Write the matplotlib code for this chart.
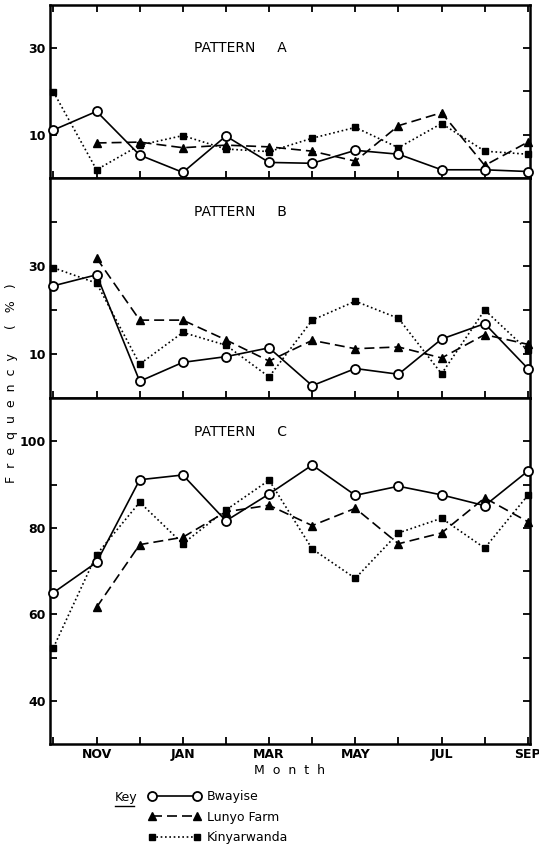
import numpy as np
import matplotlib
matplotlib.use("Agg")
import matplotlib.pyplot as plt
from matplotlib.lines import Line2D

plt.rcParams['font.family'] = ['DejaVu Sans']

months = ['OCT', 'NOV', 'DEC', 'JAN', 'FEB', 'MAR', 'APR', 'MAY', 'JUN', 'JUL', 'AUG', 'SEP']
nan = np.nan

# Pattern A (%)
a_bwayise = [11.1, 15.4, 5.3, 1.3, 9.7, 3.6, 3.4, 6.4, 5.5, 1.9, 1.9, 1.5]
a_lunyo = [nan, 8.1, 8.3, 7.0, 7.6, 7.2, 6.2, 3.9, 12.1, 15.1, 2.9, 8.3]
a_kinyar = [19.9, 1.9, 7.6, 9.8, 6.7, 6.1, 9.2, 11.7, 7.0, 12.6, 6.2, 5.5]

# Pattern B (%)
b_bwayise = [25.5, 28.0, 3.8, 8.1, 9.4, 11.4, 2.8, 6.7, 5.4, 13.4, 16.9, 6.7]
b_lunyo = [nan, 31.8, 17.7, 17.7, 13.2, 8.4, 13.1, 11.2, 11.6, 9.1, 14.4, 12.2]
b_kinyar = [29.6, 26.1, 7.7, 14.9, 12.0, 4.8, 17.7, 22.0, 18.1, 5.5, 20.0, 10.8]

# Pattern C (%)
c_bwayise = [65.0, 72.0, 91.1, 92.2, 81.6, 87.8, 94.5, 87.5, 89.6, 87.6, 85.1, 93.1]
c_lunyo = [nan, 61.6, 76.1, 77.8, 83.7, 85.2, 80.5, 84.5, 76.3, 78.8, 86.9, 81.4]
c_kinyar = [52.3, 73.8, 85.9, 76.3, 84.1, 91.0, 75.1, 68.3, 78.8, 82.2, 75.3, 87.5]

series_names = ['Bwayise', 'Lunyo Farm', 'Kinyarwanda']
panel_titles = ['PATTERN     A', 'PATTERN     B', 'PATTERN     C']

W, H = 539, 846
fig = plt.figure(figsize=(W / 100, H / 100), dpi=100)
L, R = 50 / W, 530 / W


def add_ax(top, bot):
    return fig.add_axes([L, 1 - bot / H, R - L, (bot - top) / H])


axA = add_ax(5, 178)
axB = add_ax(178, 398)
axC = add_ax(398, 744)

x = np.arange(len(months))

styles = {
    'Bwayise': dict(ls='-', marker='o', mfc='white', mec='black', ms=6.5, mew=1.3, zorder=5),
    'Lunyo Farm': dict(ls=(0, (6, 3)), marker='^', mfc='black', mec='black', ms=6, zorder=4),
    'Kinyarwanda': dict(ls=(0, (1, 1.6)), marker='s', mfc='black', mec='black', ms=4.6, zorder=3),
}

panels = [
    (axA, [a_bwayise, a_lunyo, a_kinyar], (0, 40), [10, 20, 30], [10, 30], 30.0),
    (axB, [b_bwayise, b_lunyo, b_kinyar], (0, 50), [10, 20, 30, 40], [10, 30], 42.3),
    (axC, [c_bwayise, c_lunyo, c_kinyar], (30, 110), [40, 50, 60, 70, 80, 90, 100], [40, 60, 80, 100], 102.1),
]

for i, (ax, data, ylim, yt, ylab, ty) in enumerate(panels):
    for name, vals in zip(series_names, data):
        ax.plot(x, vals, color='black', lw=1.2, clip_on=False, **styles[name])
    ax.set_xlim(-0.08, 11.05)
    ax.set_ylim(*ylim)
    ax.set_yticks(yt)
    ax.set_yticklabels([str(v) if v in ylab else '' for v in yt], fontweight='bold')
    ax.set_xticks(x)
    if i == 2:
        ax.set_xticklabels([m if k % 2 == 1 else '' for k, m in enumerate(months)], fontweight='bold')
    else:
        ax.set_xticklabels([])
    ax.tick_params(direction='in', length=5, width=1.3, labelsize=9,
                   right=True, top=(i == 0), pad=3)
    for s in ax.spines.values():
        s.set_linewidth(1.8)
    ax.text(3.25, ty, panel_titles[i], fontsize=10, ha='left', va='center')

axC.set_xlabel('M  o  n  t  h', fontsize=9, labelpad=2)

fig.text(12 / W, 1 - 383 / H, 'F  r  e  q  u  e  n  c  y      (   %   )', rotation=90,
         fontsize=9, ha='center', va='center')

# Key
fig.text(115 / W, 1 - 797 / H, 'Key', fontsize=9, ha='left', va='center')
fig.add_artist(Line2D([115 / W, 134 / W], [1 - 806 / H, 1 - 806 / H], color='black', lw=1.0))

handles = [Line2D([], [], color='black', lw=1.2, **{k: v for k, v in styles[n].items() if k != 'zorder'})
           for n in series_names]
fig.legend(handles, series_names, loc='upper left', bbox_to_anchor=(148 / W, 1 - 790 / H),
           frameon=False, numpoints=2, handlelength=4.2, handletextpad=0.5,
           labelspacing=0.6, fontsize=9, borderaxespad=0, borderpad=0)

fig.savefig('out.png', dpi=100)
